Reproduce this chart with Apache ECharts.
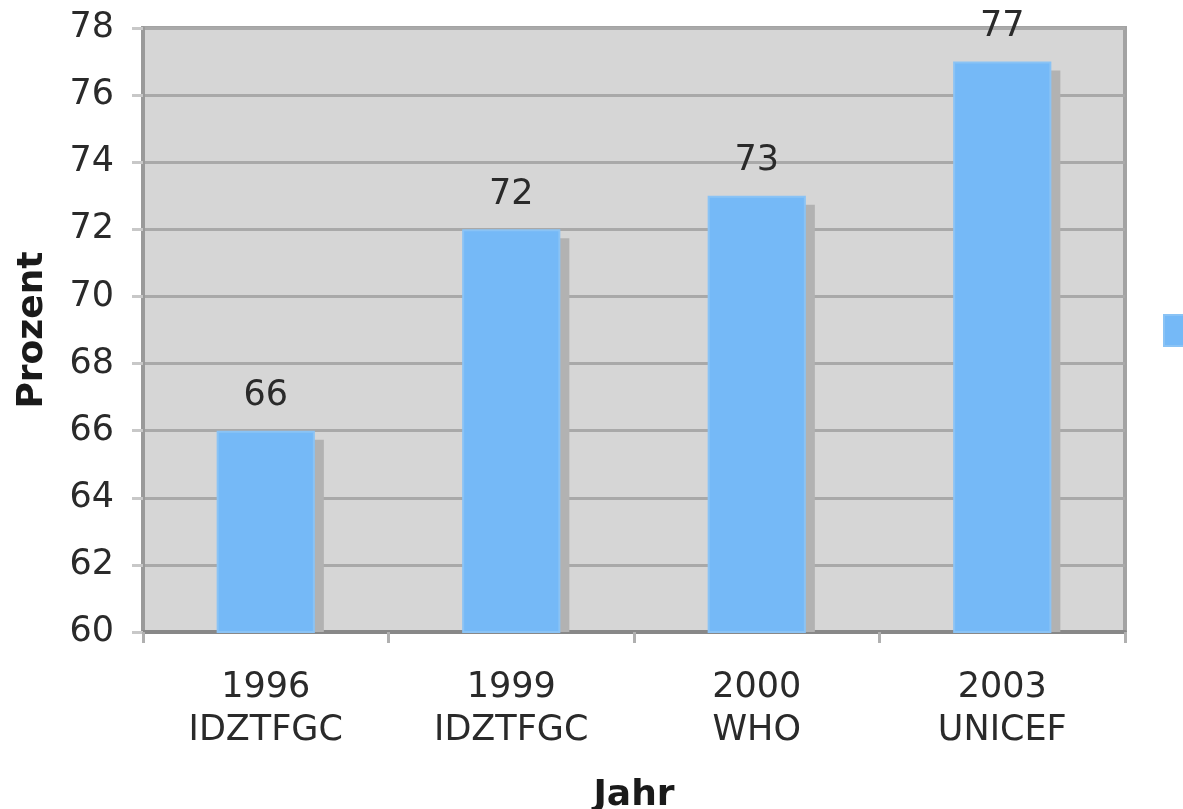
<!DOCTYPE html>
<html>
<head>
<meta charset="utf-8">
<script src="https://cdn.jsdelivr.net/npm/echarts@6/dist/echarts.min.js"></script>
<style>html,body{margin:0;padding:0;background:#fff;}#c{width:1183px;height:809px;}</style>
</head>
<body>
<div id="c"></div>
<script>
const years = ['1996', '1999', '2000', '2003'];
const sources = ['IDZTFGC', 'IDZTFGC', 'WHO', 'UNICEF'];
const values = [66, 72, 73, 77];
const yMin = 60, yMax = 78, yStep = 2;
const xTitle = 'Jahr';
const yTitle = 'Prozent';

const categories = years.map((y, i) => y + '\n' + sources[i]);
const chart = echarts.init(document.getElementById('c'), null, {renderer: 'canvas'});
const font = 'DejaVu Sans, Verdana, sans-serif';
const BAR_FRAC = 0.4, SH = 9;
chart.setOption({
  animation: false,
  backgroundColor: '#ffffff',
  grid: {left: 143, right: 58, top: 28, bottom: 177, outerBoundsMode: 'none', containLabel: false,
         show: true, backgroundColor: '#d6d6d6', borderColor: '#a3a3a3', borderWidth: 4},
  legend: {
    show: true, orient: 'vertical', left: 1158, top: 309, itemWidth: 34, itemHeight: 31,
    formatter: () => '', data: [{name: yTitle, icon: 'rect'}]
  },
  xAxis: {
    type: 'category', data: categories,
    name: xTitle, nameLocation: 'middle', nameGap: 146,
    nameTextStyle: {fontFamily: font, fontSize: 36, fontWeight: 'bold', color: '#1a1a1a'},
    axisLine: {lineStyle: {color: '#888888', width: 4}},
    axisTick: {show: true, length: 11, lineStyle: {color: '#b0b0b0', width: 3}},
    axisLabel: {fontFamily: font, fontSize: 35, color: '#2a2a2a', lineHeight: 43, margin: 34}
  },
  yAxis: {
    type: 'value', min: yMin, max: yMax, interval: yStep,
    name: yTitle, nameLocation: 'middle', nameGap: 92, nameRotate: 90,
    nameTextStyle: {fontFamily: font, fontSize: 36, fontWeight: 'bold', color: '#1a1a1a'},
    axisLine: {show: true, lineStyle: {color: '#9a9a9a', width: 4}},
    axisTick: {show: true, length: 11, lineStyle: {color: '#c8c8c8', width: 3}},
    axisLabel: {fontFamily: font, fontSize: 35, color: '#2a2a2a', margin: 29},
    splitLine: {show: true, lineStyle: {color: '#a9a9a9', width: 3}}
  },
  series: [{
    name: 'shadow', type: 'custom', z: 1, silent: true,
    data: values.map((v, i) => [i, v]),
    renderItem: function (params, api) {
      const top = api.coord([api.value(0), api.value(1)]);
      const bottom = api.coord([api.value(0), yMin]);
      const w = api.size([1, 0])[0] * BAR_FRAC;
      return {type: 'rect', shape: {x: top[0] - w / 2 + SH, y: top[1] + SH, width: w, height: bottom[1] - top[1] - SH},
              style: {fill: '#b2b2b2'}};
    }
  }, {
    name: yTitle, type: 'bar', data: values, barWidth: (BAR_FRAC * 100) + '%', z: 2,
    itemStyle: {color: '#75b9f7', borderColor: '#8ac3f5', borderWidth: 2},
    label: {show: true, position: 'top', distance: 17, fontFamily: font, fontSize: 35, color: '#2a2a2a'}
  }]
});
</script>
</body>
</html>
